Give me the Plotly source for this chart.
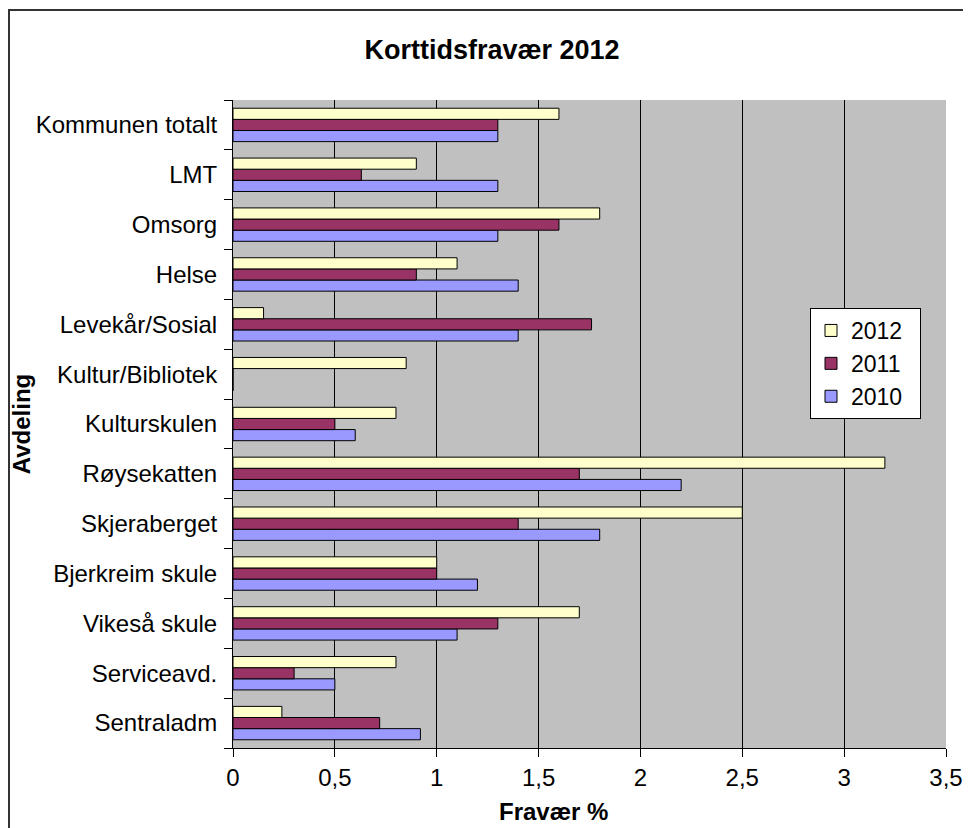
import plotly.graph_objects as go

categories = ["Kommunen totalt", "LMT", "Omsorg", "Helse", "Levekår/Sosial",
              "Kultur/Bibliotek", "Kulturskulen", "Røysekatten", "Skjeraberget",
              "Bjerkreim skule", "Vikeså skule", "Serviceavd.", "Sentraladm"]
v2012 = [1.6, 0.9, 1.8, 1.1, 0.15, 0.85, 0.8, 3.2, 2.5, 1.0, 1.7, 0.8, 0.24]
v2011 = [1.3, 0.63, 1.6, 0.9, 1.76, 0, 0.5, 1.7, 1.4, 1.0, 1.3, 0.3, 0.72]
v2010 = [1.3, 1.3, 1.3, 1.4, 1.4, 0, 0.6, 2.2, 1.8, 1.2, 1.1, 0.5, 0.92]
x_ticks = [0, 0.5, 1, 1.5, 2, 2.5, 3, 3.5]
x_tick_labels = ["0", "0,5", "1", "1,5", "2", "2,5", "3", "3,5"]

cats_rev = categories[::-1]
font = "Liberation Sans, Arial, sans-serif"

W, H = 955, 828
L, R, T, B = 225, 17, 92, 88
PW, PH = W - L - R, H - T - B

fig = go.Figure()
for name, vals, color in [("2010", v2010, "#9999FF"),
                          ("2011", v2011, "#993366"),
                          ("2012", v2012, "#FFFFCC")]:
    fig.add_trace(go.Bar(
        y=cats_rev, x=vals[::-1], name=name + "\u00a0\u00a0", orientation="h",
        marker=dict(color=color, line=dict(color="black", width=1)),
    ))

fx = lambda px: (px - L) / PW
fy = lambda py: (H - B - py) / PH

fig.update_layout(
    width=W, height=H,
    paper_bgcolor="white", plot_bgcolor="#C0C0C0",
    margin=dict(l=L, r=R, t=T, b=B, autoexpand=False),
    barmode="group", bargap=0.33, bargroupgap=0,
    font=dict(family=font, size=24, color="black"),
    title=dict(text="<b>Korttidsfravær 2012</b>", x=(492 - 8) / W, xanchor="center",
               y=1 - 42 / H, yanchor="middle", xref="container",
               font=dict(size=27, family=font)),
    legend=dict(x=fx(802), y=fy(300), xanchor="left", yanchor="top",
                bgcolor="white", bordercolor="black", borderwidth=1,
                traceorder="reversed", font=dict(size=23), itemwidth=30),
    xaxis=dict(range=[0, 3.5], tickvals=x_ticks, ticktext=x_tick_labels,
               automargin=False,
               showgrid=True, gridcolor="black", gridwidth=1,
               showline=True, linecolor="black", linewidth=1,
               ticks="outside", ticklen=8, tickcolor="black",
               zeroline=False),
    yaxis=dict(showline=True, linecolor="black", linewidth=1, automargin=False,
               ticks="outside", tickson="boundaries", ticklen=8, tickcolor="black",
               ticklabelstandoff=10,
               showgrid=False, title=dict(text="<b>Avdeling</b>", standoff=6,
                                          font=dict(size=24))),
    annotations=[dict(text="<b>Fravær %</b>", xref="paper", yref="paper",
                      x=fx(553 - 8), y=fy(811 - 8), xanchor="center", yanchor="middle",
                      showarrow=False, font=dict(size=24))],
    shapes=[
        dict(type="line", xref="paper", yref="paper",
             x0=fx(0), x1=fx(W + 30), y0=fy(2), y1=fy(2),
             line=dict(color="#333333", width=2)),
        dict(type="line", xref="paper", yref="paper",
             x0=fx(1), x1=fx(1), y0=fy(2), y1=fy(H + 30),
             line=dict(color="#333333", width=2)),
    ],
)

fig.write_html("out.html")
